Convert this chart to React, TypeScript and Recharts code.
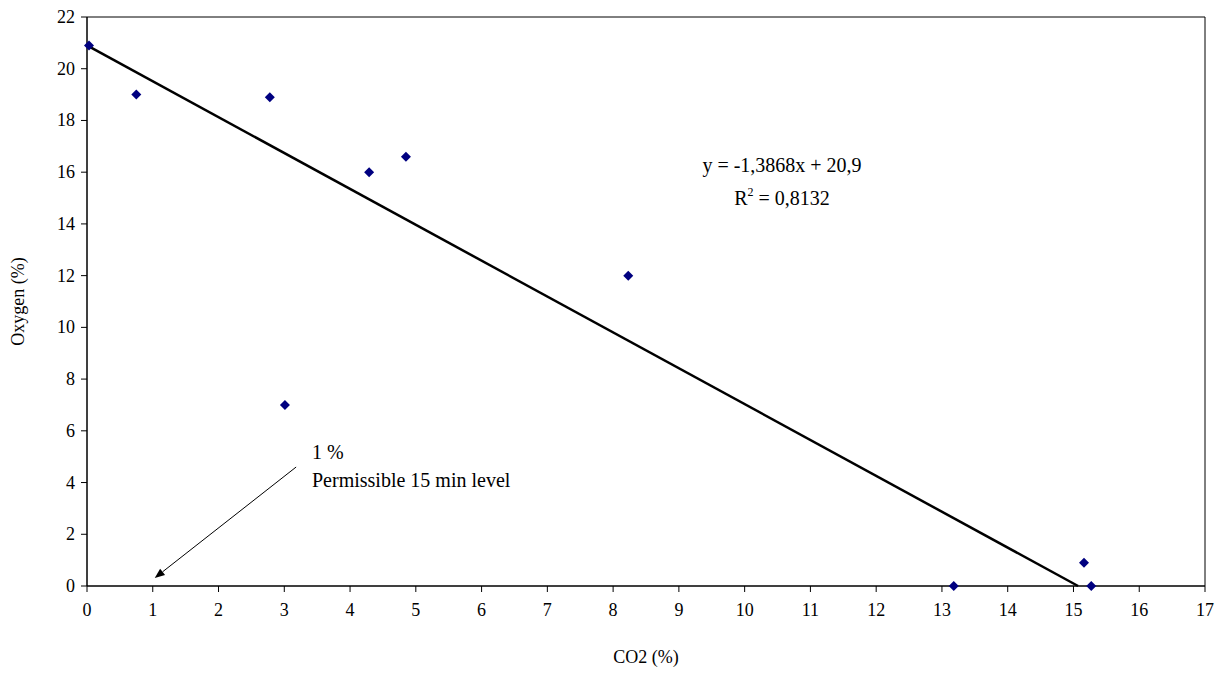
import React from "react";
import { ComposedChart, XAxis, YAxis, Scatter, ReferenceLine, ReferenceArea } from "recharts";

const co2 = [0.03, 0.75, 2.78, 3.01, 4.29, 4.85, 8.23, 13.18, 15.16, 15.27];
const oxygen = [20.9, 19.0, 18.9, 7.0, 16.0, 16.6, 12.0, 0, 0.9, 0];
const xTicks = [0,1,2,3,4,5,6,7,8,9,10,11,12,13,14,15,16,17];
const yTicks = [0,2,4,6,8,10,12,14,16,18,20,22];
const trendStart = { x: 0, y: 20.9 };
const trendEnd = { x: 15.07, y: 0 };
const arrowStart = { x: 3.18, y: 4.6 };
const arrowEnd = { x: 1.03, y: 0.31 };

const data = co2.map((x, i) => ({ x, y: oxygen[i] }));
const font = "Liberation Serif, serif";
const ts = { fontFamily: font, fontSize: 18, fill: "#000" };

const Diamond = (p: any) => {
  const { cx, cy } = p;
  const s = 5;
  return <polygon points={`${cx},${cy - s} ${cx + s},${cy} ${cx},${cy + s} ${cx - s},${cy}`} fill="#000080" />;
};

const ArrowShape = (p: any) => {
  const { x1, y1, x2, y2 } = p;
  const a = Math.atan2(y2 - y1, x2 - x1);
  const L = 10, W = 4;
  const bx = x2 - L * Math.cos(a), by = y2 - L * Math.sin(a);
  const px = -Math.sin(a) * W, py = Math.cos(a) * W;
  return (
    <g>
      <line x1={x1} y1={y1} x2={bx} y2={by} stroke="#000" strokeWidth={1} />
      <polygon points={`${x2},${y2} ${bx + px},${by + py} ${bx - px},${by - py}`} fill="#000" />
    </g>
  );
};

const XTick = (p: any) => (
  <text x={p.x} y={p.y + 22} textAnchor="middle" style={ts}>{p.payload.value}</text>
);
const YTick = (p: any) => (
  <text x={p.x - 4} y={p.y + 6} textAnchor="end" style={ts}>{p.payload.value}</text>
);
const XLabel = (p: any) => {
  const vb = p.viewBox;
  return <text x={vb.x + vb.width / 2} y={655} textAnchor="middle" style={ts}>CO2 (%)</text>;
};
const YLabel = (p: any) => {
  const vb = p.viewBox;
  const cy = vb.y + vb.height / 2;
  return <text x={16} y={cy} transform={`rotate(-90 16 ${cy})`} textAnchor="middle" style={ts}>Oxygen (%)</text>;
};

export default function App() {
  return (
    <div style={{ position: "relative", width: 1214, height: 665, fontFamily: font }}>
      <ComposedChart width={1214} height={665} data={data} margin={{ top: 9, right: 17, left: 0, bottom: 0 }}>
        <XAxis type="number" dataKey="x" domain={[0, 17]} ticks={xTicks} interval={0} height={87}
          tick={XTick} stroke="#000" tickSize={6} label={XLabel} />
        <YAxis type="number" dataKey="y" domain={[0, 22]} ticks={yTicks} interval={0} width={79}
          tick={YTick} stroke="#000" tickSize={6} label={YLabel} />
        <ReferenceArea x1={0} x2={17} y1={0} y2={22} fill="none" stroke="#000" strokeWidth={1} ifOverflow="extendDomain" />
        <ReferenceLine segment={[trendStart, trendEnd]} stroke="#000" strokeWidth={2.5} />
        <ReferenceLine segment={[arrowStart, arrowEnd]} shape={ArrowShape} />
        <Scatter dataKey="y" shape={Diamond} isAnimationActive={false} />
      </ComposedChart>
      <div style={{ position: "absolute", left: 782 - 8, top: 149 - 8, transform: "translateX(-50%)", fontSize: 20, textAlign: "center", whiteSpace: "nowrap", lineHeight: "33px" }}>
        <div>y = -1,3868x + 20,9</div>
        <div style={{ height: 33 }}>R<span style={{ fontSize: 12, position: "relative", top: -9 }}>2</span> = 0,8132</div>
      </div>
      <div style={{ position: "absolute", left: 312 - 8, top: 438 - 8, fontSize: 20, whiteSpace: "nowrap", lineHeight: "28px" }}>
        <div>1 %</div>
        <div>Permissible 15 min level</div>
      </div>
    </div>
  );
}
